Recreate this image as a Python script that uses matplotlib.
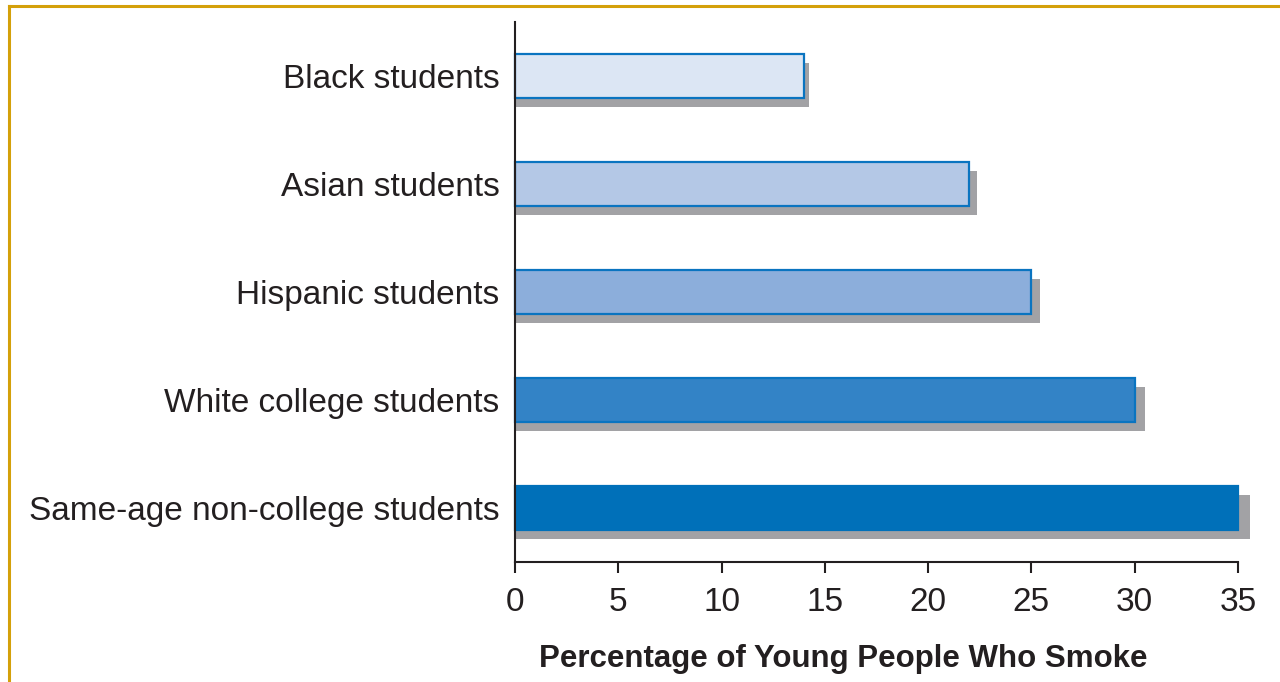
import matplotlib.pyplot as plt
from matplotlib.lines import Line2D

# data, top to bottom
groups = ['Black students', 'Asian students', 'Hispanic students',
          'White college students', 'Same-age non-college students']
percent = [14, 22, 25, 30, 35]
fills = ['#dce6f4', '#b4c8e6', '#8caedb', '#3383c6', '#0070b9']
edges = ['#0a74c0', '#0a74c0', '#0a74c0', '#0a74c0', '#0070b9']
xticks = [0, 5, 10, 15, 20, 25, 30, 35]

plt.rcParams['font.family'] = ['Liberation Sans', 'DejaVu Sans']
text_col = '#231f20'

fig = plt.figure(figsize=(12.8, 6.82), dpi=100)
ax = fig.add_axes([515 / 1280, 1 - 562 / 682, (1238 - 515) / 1280, 540 / 682])

ypos = list(range(len(groups)))
# gray drop shadow behind each bar (slightly longer and lower than the bar)
ax.barh([y + 0.085 for y in ypos], [v * 1.017 for v in percent], height=0.41,
        color='#a2a2a5', zorder=1, clip_on=False)
ax.barh(ypos, percent, height=0.41, color=fills, edgecolor=edges,
        linewidth=1.6, zorder=2, clip_on=False)

ax.set_xlim(0, 35)
ax.set_ylim(4.5, -0.5)
ax.set_xticks(xticks)
ax.set_yticks(ypos)
ax.set_yticklabels(groups, fontsize=24, color=text_col)
ax.tick_params(axis='y', length=0, pad=11)
ax.tick_params(axis='x', length=8, width=1.5, color=text_col, labelsize=24,
               labelcolor=text_col, pad=10)

for s in ['top', 'right']:
    ax.spines[s].set_visible(False)
for s in ['left', 'bottom']:
    ax.spines[s].set_linewidth(1.5)
    ax.spines[s].set_color(text_col)

ax.set_xlabel('Percentage of Young People Who Smoke', fontsize=22.5,
              fontweight='bold', color=text_col)
ax.xaxis.set_label_coords((843 - 515) / (1238 - 515), -0.152)

# golden frame on top and left
fig.add_artist(Line2D([9 / 1280, 9 / 1280], [0, 1 - 6 / 682], color='#d4a00a',
                      linewidth=2.2, transform=fig.transFigure))
fig.add_artist(Line2D([9 / 1280, 1], [1 - 6 / 682, 1 - 6 / 682], color='#d4a00a',
                      linewidth=2.2, transform=fig.transFigure))

fig.savefig('out.png', dpi=100)
